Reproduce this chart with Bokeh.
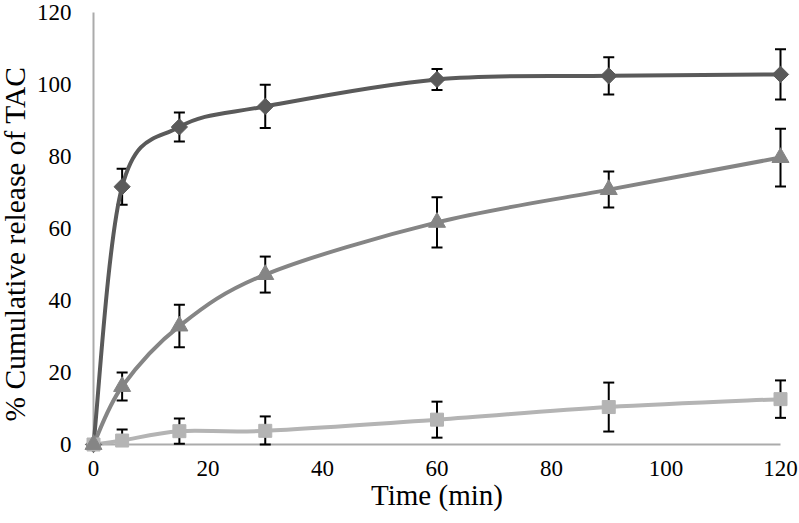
import math
from bokeh.plotting import figure
from bokeh.models import Range1d, LinearAxis, FixedTicker, Whisker, TeeHead, ColumnDataSource
from bokeh.embed import file_html
from bokeh.resources import INLINE

# ---- data ----
time_min = [0, 5, 15, 30, 60, 90, 120]

f1 = [0, 71.6, 88.2, 93.9, 101.4, 102.4, 102.8]
f1_err = [0, 5.0, 4.0, 6.0, 2.9, 5.2, 7.0]

f2 = [0, 16.1, 32.9, 47.2, 61.7, 70.8, 79.7]
f2_err = [0, 3.9, 5.9, 5.0, 7.0, 5.0, 8.0]

f3 = [0, 1.1, 3.7, 3.8, 6.9, 10.4, 12.6]
f3_err = [0, 3.1, 3.5, 4.0, 5.0, 6.8, 5.2]

x_ticks = [0, 20, 40, 60, 80, 100, 120]
y_ticks = [0, 20, 40, 60, 80, 100, 120]

FONT = "Liberation Serif"

# ---- layout geometry (the frame fills the figure; axes sit at x=0 / y=0) ----
W, H = 799, 523
X0_PX, X120_PX = 93, 780
Y0_PX, Y120_PX = 444, 12
sx = (X120_PX - X0_PX) / 120.0
sy = (Y0_PX - Y120_PX) / 120.0
x_range = Range1d(-X0_PX / sx, 120 + (W - X120_PX) / sx)
y_range = Range1d(-(H - Y0_PX) / sy, 120 + Y120_PX / sy)

p = figure(width=W, height=H, output_backend="svg", toolbar_location=None,
           x_range=x_range, y_range=y_range,
           x_axis_location=None, y_axis_location=None,
           min_border_left=0, min_border_right=0, min_border_top=0, min_border_bottom=0)
p.min_border = 0
p.outline_line_color = None
p.background_fill_color = "white"
p.border_fill_color = "white"
for g in p.grid:
    g.visible = False

AX_COL = "#ababab"

xaxis = LinearAxis(fixed_location=0, bounds=(0, 120), ticker=FixedTicker(ticks=x_ticks),
                   axis_label="Time (min)", level="underlay")
xaxis.axis_line_color = AX_COL
xaxis.axis_line_width = 2
xaxis.major_tick_out = 0
xaxis.major_tick_in = 0
xaxis.minor_tick_out = 0
xaxis.minor_tick_in = 0
xaxis.major_label_standoff = 16
xaxis.major_label_text_font = FONT
xaxis.major_label_text_font_size = "23px"
xaxis.major_label_text_color = "black"
xaxis.axis_label_text_font = FONT
xaxis.axis_label_text_font_size = "29px"
xaxis.axis_label_text_font_style = "normal"
xaxis.axis_label_text_color = "black"
xaxis.axis_label_standoff = 0
p.add_layout(xaxis, "below")

yaxis = LinearAxis(fixed_location=0, bounds=(0, 120), ticker=FixedTicker(ticks=y_ticks),
                   level="underlay")
yaxis.axis_line_color = AX_COL
yaxis.axis_line_width = 2
yaxis.major_tick_out = 0
yaxis.major_tick_in = 0
yaxis.minor_tick_out = 0
yaxis.minor_tick_in = 0
yaxis.major_label_standoff = 22
yaxis.major_label_text_font = FONT
yaxis.major_label_text_font_size = "23px"
yaxis.major_label_text_color = "black"
p.add_layout(yaxis, "left")

# separate axis carrying only the y title, centred a bit lower like the reference
ylab = LinearAxis(fixed_location=0, bounds=(0, 111.4), ticker=FixedTicker(ticks=[]),
                  axis_label="% Cumulative release of TAC", level="underlay")
ylab.axis_line_color = None
ylab.major_tick_out = 0
ylab.major_tick_in = 0
ylab.minor_tick_out = 0
ylab.major_label_standoff = 0
ylab.axis_label_standoff = 63
ylab.axis_label_text_font = FONT
ylab.axis_label_text_font_size = "29.5px"
ylab.axis_label_text_font_style = "normal"
ylab.axis_label_text_color = "black"
p.add_layout(ylab, "left")


def smooth_segments(xs, ys):
    """Excel-like smoothed line: cubic Bezier control points from neighbouring points."""
    n = len(xs)
    out = dict(x0=[], y0=[], x1=[], y1=[], cx0=[], cy0=[], cx1=[], cy1=[])
    for i in range(n - 1):
        im = max(i - 1, 0)
        ip = min(i + 2, n - 1)
        out["x0"].append(xs[i]); out["y0"].append(ys[i])
        out["x1"].append(xs[i + 1]); out["y1"].append(ys[i + 1])
        out["cx0"].append(xs[i] + (xs[i + 1] - xs[im]) / 6.0)
        out["cy0"].append(ys[i] + (ys[i + 1] - ys[im]) / 6.0)
        out["cx1"].append(xs[i + 1] - (xs[ip] - xs[i]) / 6.0)
        out["cy1"].append(ys[i + 1] - (ys[ip] - ys[i]) / 6.0)
    return out


series = [
    (f1, f1_err, "#5a5a5a", "square", 11.5, math.pi / 4),
    (f3, f3_err, "#b4b4b4", "square", 13, 0.0),
    (f2, f2_err, "#858585", "triangle", 17, 0.0),
]

# error bars (clipped at the axis minimum, as in the original chart)
for ys, errs, col, mk, sz, ang in series:
    src = ColumnDataSource(dict(x=time_min,
                                upper=[v + e for v, e in zip(ys, errs)],
                                lower=[max(v - e, 0) for v, e in zip(ys, errs)]))
    w = Whisker(base="x", upper="upper", lower="lower", source=src, level="underlay",
                line_color="black", line_width=2,
                upper_head=TeeHead(size=11, line_color="black", line_width=2),
                lower_head=TeeHead(size=11, line_color="black", line_width=2))
    p.add_layout(w)

for ys, errs, col, mk, sz, ang in series:
    seg = ColumnDataSource(smooth_segments(time_min, ys))
    p.bezier(x0="x0", y0="y0", x1="x1", y1="y1", cx0="cx0", cy0="cy0", cx1="cx1", cy1="cy1",
             source=seg, line_color=col, line_width=4)

for ys, errs, col, mk, sz, ang in series:
    p.scatter(x=time_min, y=ys, marker=mk, size=sz, angle=ang,
              fill_color=col, line_color=col, line_width=1)

open("out.html", "w").write(file_html(p, INLINE))
